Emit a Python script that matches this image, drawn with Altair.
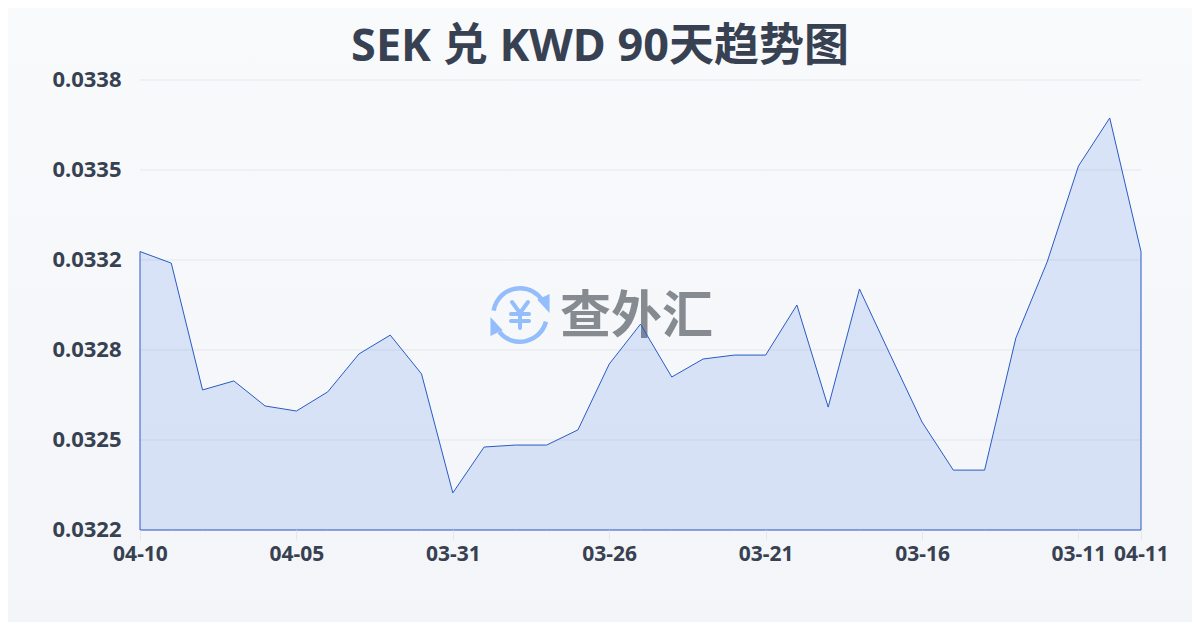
import altair as alt
import pandas as pd

dates = ["04-10","04-09","04-08","04-07","04-06","04-05","04-04","04-03","04-02","04-01","03-31",
         "03-30","03-29","03-28","03-27","03-26","03-25","03-24","03-23","03-22","03-21",
         "03-20","03-19","03-18","03-17","03-16","03-15","03-14","03-13","03-12","03-11","03-10","04-11"]
rates = [0.03319,0.033149,0.032698,0.03273,0.032641,0.032623,0.032691,0.032826,0.032893,0.032755,0.032332,
         0.032495,0.032502,0.032502,0.032556,0.03279,0.032932,0.032744,0.032808,0.032822,0.032822,
         0.033,0.032637,0.033057,0.032819,0.032584,0.032413,0.032413,0.032883,0.033153,0.033494,0.033665,0.03319]
x_labels = ["04-10","04-05","03-31","03-26","03-21","03-16","03-11","04-11"]
y_ticks = [0.0322,0.03252,0.03284,0.03316,0.03348,0.0338]
title_text = "SEK 兑 KWD 90天趋势图"
watermark_text = "查外汇"

FONT = "Noto Sans, Noto Sans CJK SC, sans-serif"
INK = "#374151"
ICON = "#93bdfb"
LINE = "#2a5bc4"

df = pd.DataFrame({"date": dates, "rate": rates})
one = alt.Data(values=[{"a": 1}])

x_scale = alt.Scale(type="point", padding=0, domain=dates)
y_scale = alt.Scale(domain=[0.0322, 0.0338], nice=False, zero=False)

bg = alt.Chart(one).mark_rect(
    fill=alt.LinearGradient(gradient="linear", x1=0, y1=0, x2=0, y2=1,
                            stops=[alt.GradientStop(offset=0, color="#f8fafc"),
                                   alt.GradientStop(offset=1, color="#f3f5f8")])
).encode(x=alt.value(-132), x2=alt.value(1052), y=alt.value(-72), y2=alt.value(542))

grid = alt.Chart(pd.DataFrame({"t": y_ticks})).mark_rule(color="#e5e7eb", strokeWidth=1).encode(
    y=alt.Y("t:Q", scale=y_scale, axis=None))

cx, cy = 380, 235   # icon centre inside the plot
def icon_arc(a, b):
    return alt.Chart(one).mark_arc(theta=a, theta2=b, radius=29, radius2=24.5, color=ICON).encode(
        x=alt.value(cx), y=alt.value(cy))
def icon_stroke(x1, y1, x2, y2):
    return alt.Chart(one).mark_rule(color=ICON, strokeWidth=4, strokeCap="round").encode(
        x=alt.value(cx + x1), y=alt.value(cy + y1), x2=alt.value(cx + x2), y2=alt.value(cy + y2))
arc1a = icon_arc(4.88, 6.2832)
arc1b = icon_arc(0, 1.02)
arc2 = icon_arc(1.82, 4.03)
tri1 = alt.Chart(one).mark_point(shape="M-0.6,-0.3L0.5,-0.8L0.5,0.9Z", size=500, filled=True, color=ICON, opacity=1).encode(
    x=alt.value(cx + 24), y=alt.value(cy - 12))
tri2 = alt.Chart(one).mark_point(shape="M0.6,0.3L-0.5,0.8L-0.5,-0.9Z", size=500, filled=True, color=ICON, opacity=1).encode(
    x=alt.value(cx - 24), y=alt.value(cy + 12))
yen_parts = [icon_stroke(-8, -13, 0, -2), icon_stroke(8, -13, 0, -2), icon_stroke(-9, -1, 9, -1),
             icon_stroke(-9, 6, 9, 6), icon_stroke(0, -2, 0, 13)]
wm = alt.Chart(one).mark_text(text=watermark_text, font="Noto Sans CJK SC", fontSize=51, fontWeight="bold",
                              color="#868a91", align="left", baseline="middle").encode(
    x=alt.value(420), y=alt.value(238))
title = alt.Chart(one).mark_text(text=title_text, font=FONT, fontSize=45, fontWeight="bold", color=INK,
                                 align="center", baseline="middle").encode(
    x=alt.value(460), y=alt.value(-33))

area = alt.Chart(df).mark_area(
    fill="#2563eb", fillOpacity=0.14, stroke=LINE, strokeWidth=1, line=False
).encode(
    x=alt.X("date:N", sort=dates, scale=x_scale,
            axis=alt.Axis(values=x_labels, title=None, labelFont=FONT, labelFontSize=21, labelFontWeight="bold",
                          labelColor=INK, labelAngle=0, labelPadding=3, tickColor="#e5e7eb", tickSize=10,
                          domain=False, grid=False, labelOverlap=False, labelBound=False, labelFlush=False, zindex=1)),
    y=alt.Y("rate:Q", scale=y_scale,
            axis=alt.Axis(values=y_ticks, format=".4f", title=None, labelFont=FONT, labelFontSize=22,
                          labelFontWeight="bold", labelColor=INK, labelPadding=19, ticks=False, domain=False,
                          grid=False, labelOverlap=False, labelOffset=-1, zindex=1)),
    y2=alt.Y2(datum=0.0322),
)

chart = alt.layer(bg, grid, arc1a, arc1b, arc2, tri1, tri2, *yen_parts, wm, area, title).properties(
    width=1001, height=450,
    padding={"left": 132, "top": 72, "right": 51, "bottom": 92},
    autosize=alt.AutoSizeParams(type="none"),
    background="#f6f8fa",
).resolve_axis(y="independent").configure_view(stroke=None)

chart.save("out.html", embed_options={"renderer": "svg", "actions": False})
